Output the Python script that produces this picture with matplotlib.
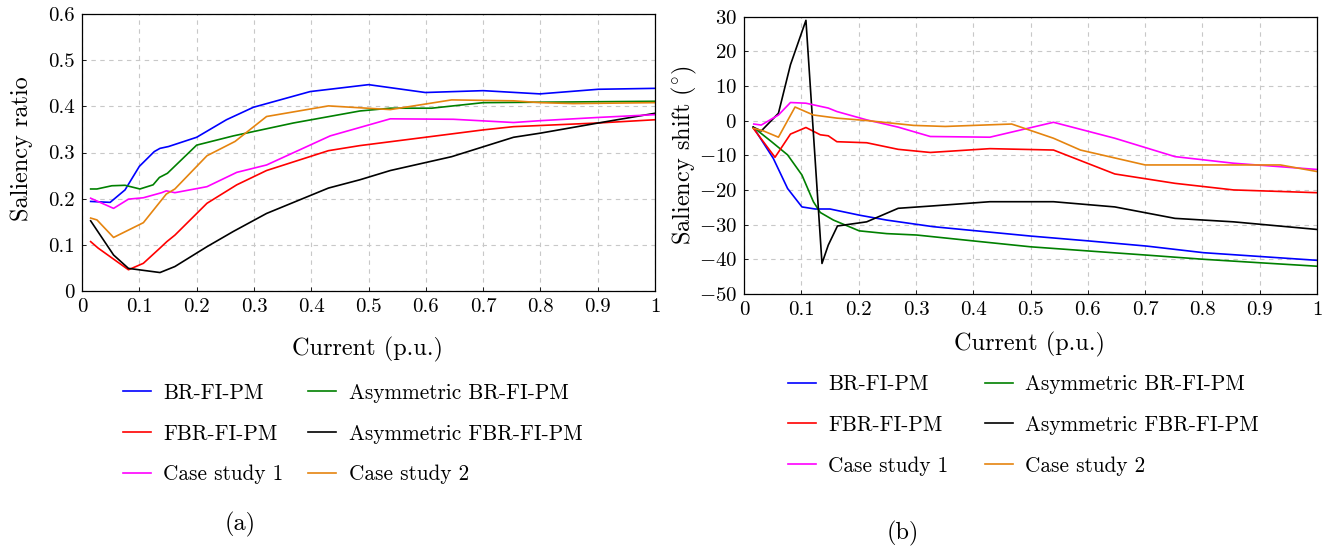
import numpy as np
import matplotlib
matplotlib.use("Agg")
import matplotlib.pyplot as plt

plt.rcParams['font.family'] = 'serif'
plt.rcParams['font.serif'] = ['cmr10', 'DejaVu Serif']
plt.rcParams['mathtext.fontset'] = 'cm'
plt.rcParams['axes.formatter.use_mathtext'] = True
plt.rcParams['axes.unicode_minus'] = True

labels = ['BR-FI-PM', 'Asymmetric BR-FI-PM', 'FBR-FI-PM',
          'Asymmetric FBR-FI-PM', 'Case study 1', 'Case study 2']
colors = ['#0000ff', '#008000', '#ff0000', '#000000', '#ff00ff', '#e5840f']

# (a) saliency ratio vs current
ratio_x = [
    [0.015, 0.049, 0.075, 0.10, 0.126, 0.136, 0.151, 0.20, 0.252, 0.299, 0.398, 0.50, 0.599, 0.70, 0.799, 0.901, 1.0],
    [0.015, 0.026, 0.052, 0.075, 0.101, 0.124, 0.135, 0.149, 0.20, 0.264, 0.369, 0.485, 0.538, 0.61, 0.70, 0.799, 1.0],
    [0.015, 0.028, 0.081, 0.107, 0.136, 0.148, 0.162, 0.218, 0.27, 0.322, 0.43, 0.485, 0.599, 0.70, 0.753, 0.901, 1.0],
    [0.015, 0.055, 0.081, 0.136, 0.162, 0.218, 0.264, 0.322, 0.43, 0.485, 0.538, 0.645, 0.753, 0.80, 0.901, 1.0],
    [0.015, 0.055, 0.081, 0.107, 0.139, 0.147, 0.162, 0.218, 0.27, 0.322, 0.433, 0.538, 0.648, 0.753, 0.80, 0.901, 1.0],
    [0.015, 0.026, 0.055, 0.107, 0.147, 0.162, 0.218, 0.267, 0.322, 0.43, 0.538, 0.645, 0.753, 0.80, 0.857, 1.0],
]
ratio_y = [
    [0.194, 0.192, 0.219, 0.270, 0.302, 0.309, 0.313, 0.333, 0.371, 0.398, 0.432, 0.447, 0.430, 0.434, 0.427, 0.437, 0.439],
    [0.221, 0.221, 0.228, 0.229, 0.221, 0.230, 0.246, 0.255, 0.316, 0.336, 0.364, 0.390, 0.396, 0.396, 0.408, 0.409, 0.411],
    [0.107, 0.093, 0.046, 0.060, 0.093, 0.107, 0.121, 0.190, 0.230, 0.261, 0.304, 0.315, 0.333, 0.349, 0.356, 0.364, 0.371],
    [0.152, 0.078, 0.049, 0.040, 0.053, 0.096, 0.129, 0.168, 0.223, 0.241, 0.261, 0.291, 0.333, 0.342, 0.364, 0.385],
    [0.201, 0.179, 0.199, 0.202, 0.213, 0.217, 0.213, 0.226, 0.257, 0.273, 0.336, 0.373, 0.372, 0.365, 0.369, 0.376, 0.382],
    [0.158, 0.154, 0.116, 0.148, 0.210, 0.221, 0.293, 0.324, 0.378, 0.401, 0.393, 0.414, 0.412, 0.408, 0.406, 0.408],
]

# (b) saliency shift vs current
shift_x = [
    [0.016, 0.051, 0.076, 0.101, 0.124, 0.15, 0.202, 0.249, 0.33, 0.50, 0.601, 0.703, 0.802, 1.0],
    [0.016, 0.048, 0.076, 0.101, 0.121, 0.133, 0.156, 0.201, 0.249, 0.301, 0.40, 0.50, 0.601, 0.703, 0.802, 0.90, 1.0],
    [0.016, 0.054, 0.081, 0.108, 0.133, 0.147, 0.162, 0.214, 0.269, 0.325, 0.429, 0.54, 0.647, 0.752, 0.854, 1.0],
    [0.016, 0.030, 0.06, 0.081, 0.108, 0.136, 0.147, 0.163, 0.214, 0.269, 0.33, 0.429, 0.54, 0.647, 0.752, 0.854, 1.0],
    [0.017, 0.03, 0.06, 0.081, 0.108, 0.147, 0.162, 0.214, 0.269, 0.325, 0.429, 0.54, 0.647, 0.752, 0.854, 1.0],
    [0.016, 0.034, 0.06, 0.089, 0.121, 0.162, 0.214, 0.296, 0.351, 0.467, 0.54, 0.587, 0.70, 0.802, 0.936, 1.0],
]
shift_y = [
    [-1.9, -10.9, -19.6, -24.9, -25.5, -25.5, -27.3, -28.7, -30.6, -33.3, -34.7, -36.2, -38.1, -40.3],
    [-1.9, -6.1, -9.9, -15.7, -23.4, -26.5, -28.7, -31.8, -32.6, -33.0, -34.7, -36.4, -37.6, -38.8, -40.0, -41.0, -42.0],
    [-2.2, -10.6, -3.9, -2.0, -4.1, -4.4, -6.1, -6.4, -8.3, -9.2, -8.1, -8.5, -15.4, -18.1, -20.0, -20.8],
    [-1.9, -3.0, 2.1, 16.1, 28.9, -41.2, -35.9, -30.4, -29.2, -25.3, -24.6, -23.4, -23.4, -24.9, -28.2, -29.2, -31.4],
    [-1.0, -1.3, 1.6, 5.2, 5.0, 3.6, 2.6, 0.2, -1.9, -4.6, -4.8, -0.5, -5.1, -10.4, -12.3, -14.1],
    [-2.2, -3.0, -4.8, 3.9, 1.6, 0.7, 0.0, -1.4, -1.7, -1.0, -5.1, -8.5, -12.8, -12.8, -12.8, -14.7],
]

fig = plt.figure(figsize=(13.32, 5.5), dpi=100)
ax1 = fig.add_axes([0.0616, 0.4709, 0.4302, 0.5036])
ax2 = fig.add_axes([0.5586, 0.4655, 0.4302, 0.5045])


def style_axis(ax):
    ax.set_xlim(0, 1)
    ax.set_xticks(np.arange(0, 1.01, 0.1))
    ax.set_xticklabels(['0', '0.1', '0.2', '0.3', '0.4', '0.5', '0.6', '0.7', '0.8', '0.9', '1'])
    ax.grid(True, linestyle=(0, (4, 4)), color='#c8c8c8', linewidth=0.8)
    ax.set_axisbelow(True)
    ax.tick_params(direction='in', length=3, labelsize=15, width=0.6, pad=5)
    for sp in ax.spines.values():
        sp.set_linewidth(0.9)
    ax.set_xlabel('Current (p.u.)', fontsize=17.5)


for i in range(6):
    ax1.plot(ratio_x[i], ratio_y[i], color=colors[i], lw=1.2, label=labels[i])
    ax2.plot(shift_x[i], shift_y[i], color=colors[i], lw=1.2, label=labels[i])

style_axis(ax1)
ax1.set_ylim(0, 0.6)
ax1.set_yticks(np.arange(0, 0.61, 0.1))
ax1.set_yticklabels(['0', '0.1', '0.2', '0.3', '0.4', '0.5', '0.6'])
ax1.set_ylabel('Saliency ratio', fontsize=17.5)
ax1.xaxis.set_label_coords(0.498, -0.166)
ax1.yaxis.set_label_coords(-0.0855, 0.515)

style_axis(ax2)
ax2.set_ylim(-50, 30)
ax2.set_yticks(np.arange(-50, 31, 10))
ax2.set_ylabel(r'Saliency shift $(^{\circ})$', fontsize=17.5)
ax2.xaxis.set_label_coords(0.499, -0.137)
ax2.yaxis.set_label_coords(-0.0785, 0.5)

# legends below each panel, two columns
for ax, anchor, colsp in ((ax1, (0.0923, 0.303), 1.16), (ax2, (0.5915, 0.319), 1.72)):
    h, l = ax.get_legend_handles_labels()
    # matplotlib fills columns first: reorder so rows read left-right
    h = [h[0], h[2], h[4], h[1], h[3], h[5]]
    l = [l[0], l[2], l[4], l[1], l[3], l[5]]
    fig.legend(h, l, loc='upper left', bbox_to_anchor=anchor, ncol=2,
               frameon=False, fontsize=15.3, handlelength=1.3, handletextpad=0.6,
               columnspacing=colsp, labelspacing=1.0, borderaxespad=0, borderpad=0)

fig.text(240 / 1332, 1 - 524 / 550, '(a)', ha='center', va='center', fontsize=17.5)
fig.text(903 / 1332, 1 - 533 / 550, '(b)', ha='center', va='center', fontsize=17.5)

fig.savefig('out.png', dpi=100)
